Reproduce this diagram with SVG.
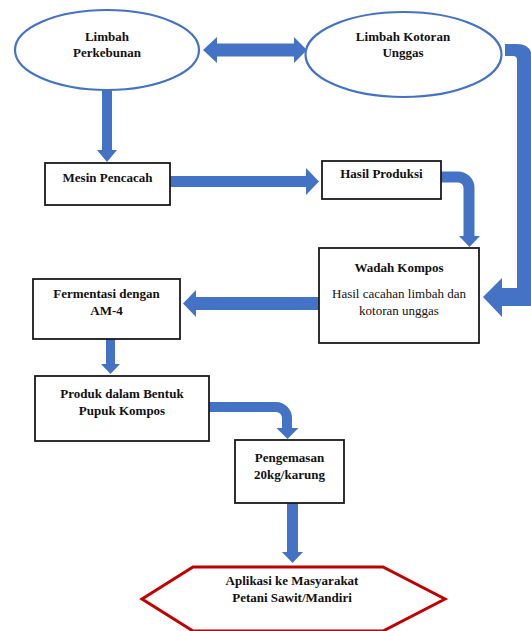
<svg xmlns="http://www.w3.org/2000/svg" width="531" height="631" viewBox="0 0 531 631">
<style>
.ell{fill:#fff;stroke:#4472c4;stroke-width:2.2}
.box{fill:#fff;stroke:#1a1a1a;stroke-width:1.8}
.hex{fill:#fff;stroke:#c00000;stroke-width:3}
.t{font-family:"Liberation Serif","Times New Roman",serif;font-size:13px;fill:#111;text-anchor:middle}
.b{font-weight:bold}
.conn path.f,.conn polygon{fill:#4472c4;stroke:none}
.conn path.s{fill:none;stroke:#4472c4}
</style>
<rect width="531" height="631" fill="#fff"/>
<g class="conn" id="connectors">
  <polygon points="203,50 217,37 217,43.5 294,43.5 294,37 307,50 294,63 294,56.5 217,56.5 217,63"/>
  <polygon points="102,90 112,90 112,150 117,150 107,162 97,150 102,150"/>
  <polygon points="170,176 306,176 306,168 319,181.5 306,195 306,187 170,187"/>
  <path class="s" d="M441,177 H458 A11,11 0 0 1 469,188 V237" stroke-width="11"/>
  <polygon points="459,236 480,236 469.5,247"/>
  <path class="f" d="M505,44 H517 Q532,44 532,59 V306 H502 V317 L483,297 L502,278 V288 H517 V60 Q517,56 513,56 H505 Z"/>
  <polygon points="319,297 196,297 196,290 183,303.5 196,317 196,310 319,310"/>
  <polygon points="106,339 115,339 115,364 120,364 110.5,374 101,364 106,364"/>
  <path class="s" d="M209,407 H276 A11,11 0 0 1 287,418 V429" stroke-width="10"/>
  <polygon points="276.5,428 298.5,428 287.5,439"/>
  <polygon points="287,503 298,503 298,552 303,552 292.5,563 282,552 287,552"/>
</g>
<g id="limbah-perkebunan">
  <ellipse class="ell" cx="107" cy="50" rx="92" ry="40"/>
  <text class="t b" x="107" y="41">Limbah</text>
  <text class="t b" x="107" y="57">Perkebunan</text>
</g>
<g id="limbah-kotoran">
  <ellipse class="ell" cx="403.5" cy="54.5" rx="98" ry="42.5"/>
  <text class="t b" x="403" y="41">Limbah Kotoran</text>
  <text class="t b" x="403" y="57">Unggas</text>
</g>
<g id="mesin-pencacah">
  <rect class="box" x="45" y="163" width="125" height="42"/>
  <text class="t b" x="107.5" y="182">Mesin Pencacah</text>
</g>
<g id="hasil-produksi">
  <rect class="box" x="322" y="161" width="119" height="38"/>
  <text class="t b" x="381.5" y="178">Hasil Produksi</text>
</g>
<g id="wadah-kompos">
  <rect class="box" x="319" y="248" width="160" height="95"/>
  <text class="t b" x="399" y="272">Wadah Kompos</text>
  <text class="t" x="399" y="298">Hasil cacahan limbah dan</text>
  <text class="t" x="399" y="315">kotoran unggas</text>
</g>
<g id="fermentasi">
  <rect class="box" x="33" y="279" width="147" height="60"/>
  <text class="t b" x="106.5" y="298">Fermentasi dengan</text>
  <text class="t b" x="106.5" y="315">AM-4</text>
</g>
<g id="produk">
  <rect class="box" x="35" y="376" width="174" height="65"/>
  <text class="t b" x="122" y="398">Produk dalam Bentuk</text>
  <text class="t b" x="122" y="415">Pupuk Kompos</text>
</g>
<g id="pengemasan">
  <rect class="box" x="235" y="440" width="109" height="63"/>
  <text class="t b" x="289.5" y="462">Pengemasan</text>
  <text class="t b" x="289.5" y="479">20kg/karung</text>
</g>
<g id="aplikasi">
  <polygon class="hex" points="142,599 193,567 383,567 445,599 383,631 193,631"/>
  <text class="t b" x="292" y="585">Aplikasi ke Masyarakat</text>
  <text class="t b" x="292" y="602">Petani Sawit/Mandiri</text>
</g>
</svg>
